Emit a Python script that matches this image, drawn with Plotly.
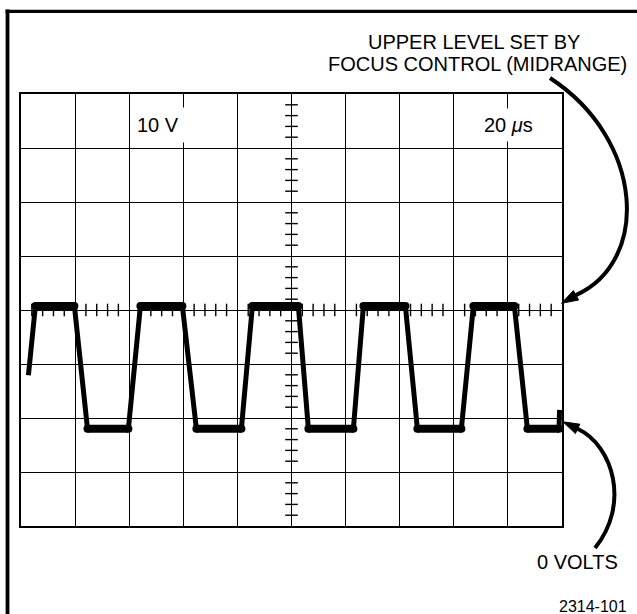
import plotly.graph_objects as go

# ---- data (graticule divisions: x = time div, y = volts div, centre = 0) ----
time_div = [0.137, 0.266, 0.987, 1.229, 1.985, 2.207, 2.983, 3.242, 4.074, 4.277,
            5.127, 5.312, 6.144, 6.329, 7.105, 7.327, 8.140, 8.362, 9.120, 9.360,
            9.945, 9.955]
volts_div = [-1.21, 0.075, 0.075, -2.2, -2.2, 0.075, 0.075, -2.2, -2.2, 0.075,
             0.075, -2.2, -2.2, 0.075, 0.075, -2.2, -2.2, 0.075, 0.075, -2.2,
             -2.2, -1.85]

volts_label = "10 V"
time_label = "20 <i>μ</i>s"
upper_note = ["UPPER LEVEL SET BY", "FOCUS CONTROL (MIDRANGE)"]
zero_note = "0 VOLTS"
fig_id = "2314-101"

# graticule structure
x_divs = 10
y_divs = 8
minor_x = [i / 5 for i in range(1, x_divs * 5) if i % 5]
minor_y = [i / 5 - y_divs / 2 for i in range(1, y_divs * 5) if i % 5]

# ---- layout geometry ----
W, H = 637, 614
L, R, T, B = 21, 75, 94, 88
PW, PH = W - L - R, H - T - B


def px(x):
    return (x - L) / PW


def py(y):
    return (H - B - y) / PH


FONT = "Liberation Sans, Arial, sans-serif"

fig = go.Figure()

# minor ticks on centre lines
fig.add_trace(go.Scatter(
    x=minor_x, y=[0] * len(minor_x), mode="markers",
    marker=dict(symbol="line-ns", size=9, line=dict(color="black", width=1.4)),
    hoverinfo="skip"))
fig.add_trace(go.Scatter(
    x=[x_divs / 2] * len(minor_y), y=minor_y, mode="markers",
    marker=dict(symbol="line-ew", size=9, line=dict(color="black", width=1.4)),
    hoverinfo="skip"))

# waveform (edges thinner)
fig.add_trace(go.Scatter(
    x=time_div, y=volts_div, mode="lines",
    line=dict(color="black", width=5), hoverinfo="skip"))

# flat portions (brighter/thicker)
fx, fy = [], []
for i in range(len(time_div) - 1):
    if volts_div[i] == volts_div[i + 1]:
        fx += [time_div[i], time_div[i + 1], None]
        fy += [volts_div[i], volts_div[i + 1], None]
fig.add_trace(go.Scatter(
    x=fx, y=fy, mode="lines+markers",
    line=dict(color="black", width=8),
    marker=dict(color="black", size=8), hoverinfo="skip"))

axis_common = dict(showticklabels=False, ticks="", showgrid=True, dtick=1, tick0=0,
                   gridcolor="black", gridwidth=1.4, zeroline=False,
                   showline=True, mirror=True, linecolor="black", linewidth=1.7,
                   fixedrange=True)
fig.update_xaxes(range=[0, x_divs], **axis_common)
fig.update_yaxes(range=[-y_divs / 2, y_divs / 2], **axis_common)

shapes = []
# outer frame (left and top)
shapes.append(dict(type="line", xref="paper", yref="paper",
                   x0=px(7.5), y0=py(9.5), x1=px(7.5), y1=py(614),
                   line=dict(color="black", width=3.8)))
shapes.append(dict(type="line", xref="paper", yref="paper",
                   x0=px(5.6), y0=py(11.3), x1=px(637), y1=py(11.3),
                   line=dict(color="black", width=3.2)))


def bez(p0, p1, p2, p3):
    pts = [p0, p1, p2, p3]
    s = "M {:.5f},{:.5f} C ".format(px(pts[0][0]), py(pts[0][1]))
    s += " ".join("{:.5f},{:.5f}".format(px(a), py(b)) for a, b in pts[1:])
    return s


def tri(a, b, c):
    return "M {:.5f},{:.5f} L {:.5f},{:.5f} L {:.5f},{:.5f} Z".format(
        px(a[0]), py(a[1]), px(b[0]), py(b[1]), px(c[0]), py(c[1]))


# upper arrow
shapes.append(dict(type="path", xref="paper", yref="paper",
                   path=bez((550, 78), (645, 140), (650, 262), (575.9, 295.2)),
                   line=dict(color="black", width=4)))
shapes.append(dict(type="path", xref="paper", yref="paper",
                   path=tri((561.5, 303.3), (578.6, 300.0), (573.4, 290.6)),
                   fillcolor="black", line=dict(color="black", width=1)))
# lower arrow
shapes.append(dict(type="path", xref="paper", yref="paper",
                   path=bez((577.5, 428.8), (613.7, 445.8), (630, 505), (595, 548)),
                   line=dict(color="black", width=4)))
shapes.append(dict(type="path", xref="paper", yref="paper",
                   path=tri((563, 421.8), (579.8, 424.2), (575.4, 433.6)),
                   fillcolor="black", line=dict(color="black", width=1)))

ann = []


def text(t, x, y, size=20, bg=None, pad=0):
    d = dict(text=t, xref="paper", yref="paper", x=px(x), y=py(y),
             xanchor="center", yanchor="middle", showarrow=False,
             font=dict(family=FONT, size=size, color="black"))
    if bg:
        d.update(bgcolor=bg, borderpad=pad)
    ann.append(d)


text(upper_note[0], 474, 42)
text(upper_note[1], 477, 64)
text(volts_label, 158, 125, bg="white", pad=6)
text(time_label, 508, 125, bg="white", pad=5)
text(zero_note, 577, 562)
text(fig_id, 592.5, 606, size=16)

fig.update_layout(width=W, height=H, margin=dict(l=L, r=R, t=T, b=B, pad=0),
                  plot_bgcolor="white", paper_bgcolor="white", showlegend=False,
                  shapes=shapes, annotations=ann)

fig.write_html("out.html", config={"displayModeBar": False},
               post_script="document.body.style.margin='0';document.body.style.padding='0';document.body.style.overflow='hidden';")
